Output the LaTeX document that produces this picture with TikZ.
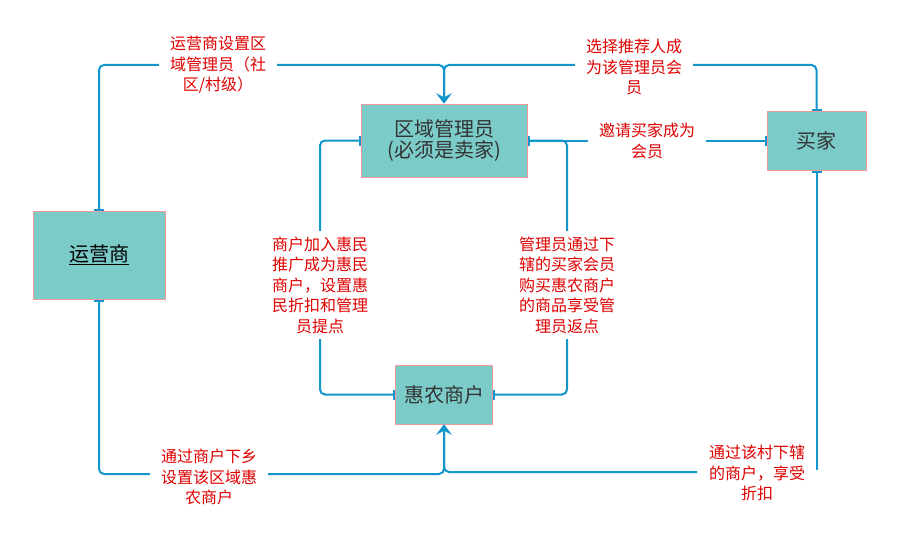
\documentclass[tikz,border=0pt]{standalone}
\usepackage{fontspec}
\newfontfamily\cjk{Noto Sans CJK SC}
\usetikzlibrary{arrows.meta}
\definecolor{boxfill}{HTML}{7BCBC9}
\definecolor{boxline}{HTML}{F29A9A}
\definecolor{conncol}{HTML}{1296CC}
\definecolor{lbl}{HTML}{E00000}
\definecolor{boxtext}{HTML}{333333}
\begin{document}
\begin{tikzpicture}[x=1pt,y=-1pt,
  box/.style={draw=boxline, line width=1pt, fill=boxfill, inner sep=0pt,
    font=\cjk\fontsize{20}{21}\selectfont, text=boxtext, align=center},
  conn/.style={draw=conncol, line width=2pt, rounded corners=5pt},
  lab/.style={fill=white, text=lbl, font=\cjk\fontsize{16}{20.5}\selectfont,
    align=center, inner xsep=11pt, inner ysep=6pt},
  labnf/.style={text=lbl, font=\cjk\fontsize{16}{20.5}\selectfont,
    align=center, inner sep=0pt},
  tipa/.tip={Stealth[length=10pt,width=15pt,inset=4pt]},
  bara/.tip={Bar[width=10pt]}]
\useasboundingbox (0,0) rectangle (910,543);
\fill[white] (0,0) rectangle (910,543);
% nodes
\node[box, minimum width=132pt, minimum height=88pt, text=black] (op) at (99,255) {\underline{运营商}};
\node[box, minimum width=166pt, minimum height=73pt] (admin) at (444,140.5) {区域管理员\\(必须是卖家)};
\node[box, minimum width=99pt, minimum height=59pt] (buyer) at (816.5,140.5) {买家};
\node[box, minimum width=97pt, minimum height=59pt] (merchant) at (444,394.5) {惠农商户};
% junction coordinates
\coordinate (j1) at (444,65);
\coordinate (c4) at (320,140.5);
\coordinate (c5) at (567,140.5);
\coordinate (j6) at (444,474);
\coordinate (c7a) at (816.5,470);
\coordinate (c7b) at (697,472);
% connectors
\draw[conn, bara-tipa] (op.north) |- (j1) -- (admin.north);
\draw[conn, bara-tipa] (buyer.north) |- (j1) -- (admin.north);
\draw[conn, bara-bara] (admin.east) -- (buyer.west);
\draw[conn, bara-bara] (merchant.west) -| (c4) -- (admin.west);
\draw[conn, bara-bara] (merchant.east) -| (c5) -- (admin.east);
\draw[conn, bara-tipa] (op.south) |- (j6) -- (merchant.south);
\draw[conn, bara-] (buyer.south) -- (c7a);
\draw[conn, -tipa] (c7b) -| (merchant.south);
% labels
\node[lab] (l1) at (218,65) {运营商设置区\\域管理员（社\\区/村级）};
\node[lab] (l2) at (634,67) {选择推荐人成\\为该管理员会\\员};
\node[lab] (l3) at (647,141) {邀请买家成为\\会员};
\node[lab] (l4) at (320,285) {商户加入惠民\\推广成为惠民\\商户，设置惠\\民折扣和管理\\员提点};
\node[lab] (l5) at (567,285) {管理员通过下\\辖的买家会员\\购买惠农商户\\的商品享受管\\理员返点};
\node[lab] (l6) at (209,477) {通过商户下乡\\设置该区域惠\\农商户};
\node[labnf] (l7) at (757,473) {通过该村下辖\\的商户，享受\\折扣};
\end{tikzpicture}
\end{document}
